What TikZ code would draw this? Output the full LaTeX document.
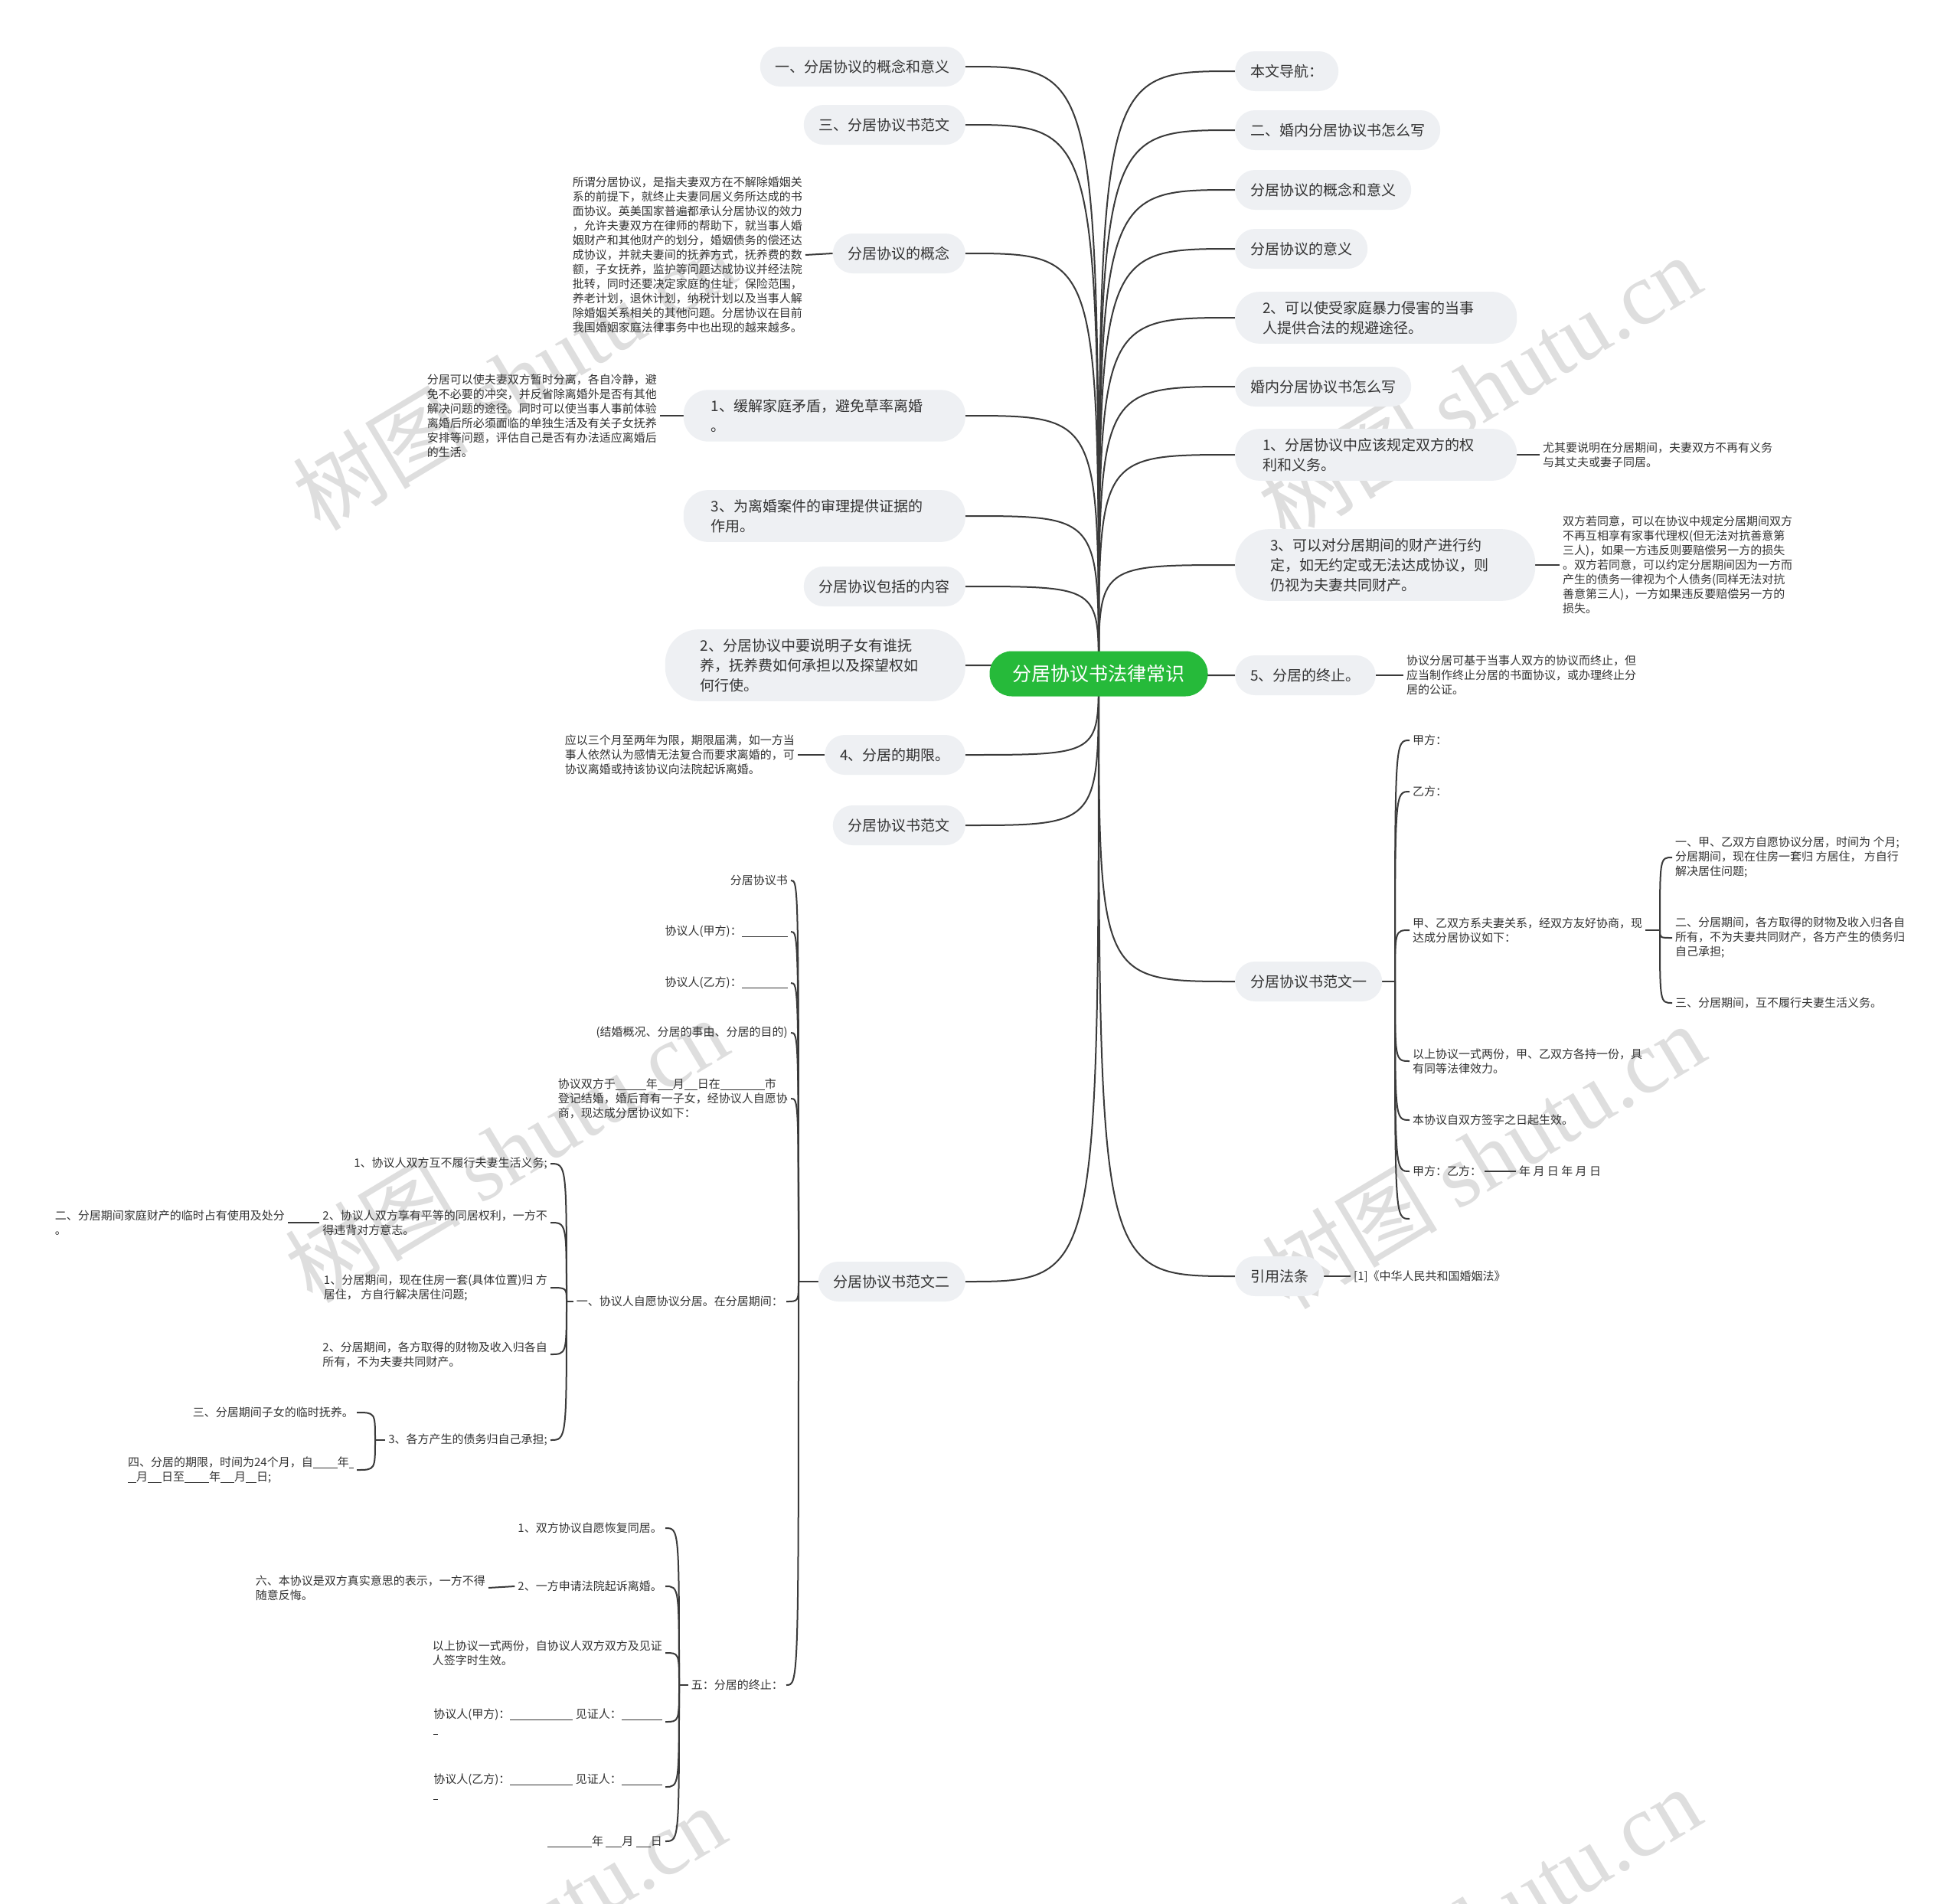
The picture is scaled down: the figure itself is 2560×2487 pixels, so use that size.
\documentclass[tikz,border=0pt]{standalone}
\usepackage{fontspec}
\setmainfont{Noto Sans CJK SC}
\newfontfamily\wmserif{Liberation Serif}
\usetikzlibrary{backgrounds}
\definecolor{rootgreen}{RGB}{38,186,58}
\definecolor{topicfill}{RGB}{238,240,243}
\definecolor{inkc}{RGB}{51,51,51}
\definecolor{linkc}{RGB}{58,58,58}
\definecolor{markc}{RGB}{222,222,222}
\newcommand{\fillin}[1]{\rule[-2.5pt]{#1pt}{1pt}}

\begin{document}
\begin{tikzpicture}[x=1pt,y=-1pt,
    root/.style={fill=rootgreen,text=white,rounded corners=29pt,minimum height=59pt,inner xsep=30pt,font=\fontsize{25}{30}\selectfont},
    topic/.style={fill=topicfill,text=inkc,rounded corners=26pt,minimum height=52pt,inner xsep=20pt,font=\fontsize{19}{26}\selectfont},
    topicm/.style={topic,rounded corners=32pt,inner xsep=36pt,inner ysep=12pt,text width=296pt,align=left},
    topicw/.style={topicm,rounded corners=44pt,inner xsep=46pt,text width=300pt},
    leaf/.style={text=inkc,inner xsep=4pt,inner ysep=2pt,align=left,font=\fontsize{15}{19}\selectfont},
    link/.style={draw=linkc,line width=2pt,to path={.. controls (\tikztostart |- \tikztotarget) .. (\tikztotarget)}},
    stub/.style={draw=linkc,line width=2pt},
    wmark/.style={text=markc,rotate=31,font=\fontsize{115}{115}\selectfont}]
    \useasboundingbox (0,0) rectangle (2560,2487);
    \begin{scope}[on background layer]
        \fill[white] (0,0) rectangle (2560,2487);
        \node[wmark] (wm1) at (671,493) {树图 {\wmserif shutu.cn}};
        \node[wmark] (wm2) at (1932,506) {树图 {\wmserif shutu.cn}};
        \node[wmark] (wm3) at (661,1502) {树图 {\wmserif shutu.cn}};
        \node[wmark] (wm4) at (1937,1510) {树图 {\wmserif shutu.cn}};
        \node[wmark] (wm5) at (658,2531) {树图 {\wmserif shutu.cn}};
        \node[wmark] (wm6) at (1932,2507) {树图 {\wmserif shutu.cn}};
    \end{scope}

    \node[root] (root) at (1435,880) {分居协议书法律常识};

    \node[topic,anchor=west] (r1) at (1613,93) {本文导航：};
    \node[topic,anchor=west] (r2) at (1613,170) {二、婚内分居协议书怎么写};
    \node[topic,anchor=west] (r3) at (1613,248) {分居协议的概念和意义};
    \node[topic,anchor=west] (r4) at (1613,325) {分居协议的意义};
    \node[topicm,anchor=west] (r5) at (1613,415) {2、可以使受家庭暴力侵害的当事\\人提供合法的规避途径。};
    \node[topic,anchor=west] (r6) at (1613,505) {婚内分居协议书怎么写};
    \node[topicm,anchor=west] (r7) at (1613,594) {1、分居协议中应该规定双方的权\\利和义务。};
    \node[topicw,anchor=west] (r8) at (1613,738) {3、可以对分居期间的财产进行约\\定，如无约定或无法达成协议，则\\仍视为夫妻共同财产。};
    \node[topic,anchor=west] (r9) at (1613,882) {5、分居的终止。};
    \node[topic,anchor=west] (r10) at (1613,1282) {分居协议书范文一};
    \node[topic,anchor=west] (r11) at (1613,1667) {引用法条};

    \node[leaf,anchor=west] (r7a) at (2011,594) {尤其要说明在分居期间，夫妻双方不再有义务\\与其丈夫或妻子同居。};
    \node[leaf,anchor=west] (r8a) at (2037,738) {双方若同意，可以在协议中规定分居期间双方\\不再互相享有家事代理权(但无法对抗善意第\\三人)，如果一方违反则要赔偿另一方的损失\\。双方若同意，可以约定分居期间因为一方而\\产生的债务一律视为个人债务(同样无法对抗\\善意第三人)，一方如果违反要赔偿另一方的\\损失。};
    \node[leaf,anchor=west] (r9a) at (1833,882) {协议分居可基于当事人双方的协议而终止，但\\应当制作终止分居的书面协议，或办理终止分\\居的公证。};
    \node[leaf,anchor=west] (r11a) at (1764,1667) {[1]《中华人民共和国婚姻法》};

    \coordinate (r10j) at (1822,1282);
    \node[leaf,anchor=west] (r10a) at (1841,967) {甲方：};
    \node[leaf,anchor=west] (r10b) at (1841,1034) {乙方：};
    \node[leaf,anchor=west] (r10c) at (1841,1215) {甲、乙双方系夫妻关系，经双方友好协商，现\\达成分居协议如下：};
    \coordinate (r10cj) at (2168,1215);
    \node[leaf,anchor=west] (r10c1) at (2184,1120) {一、甲、乙双方自愿协议分居，时间为 个月;\\分居期间，现在住房一套归 方居住， 方自行\\解决居住问题;};
    \node[leaf,anchor=west] (r10c2) at (2184,1225) {二、分居期间，各方取得的财物及收入归各自\\所有，不为夫妻共同财产，各方产生的债务归\\自己承担;};
    \node[leaf,anchor=west] (r10c3) at (2184,1310) {三、分居期间，互不履行夫妻生活义务。};
    \node[leaf,anchor=west] (r10d) at (1841,1386) {以上协议一式两份，甲、乙双方各持一份，具\\有同等法律效力。};
    \node[leaf,anchor=west] (r10e) at (1841,1463) {本协议自双方签字之日起生效。};
    \node[leaf,anchor=west] (r10f) at (1841,1530) {甲方：乙方：};
    \node[leaf,anchor=west] (r10f1) at (1980,1530) {年 月 日 年 月 日};
    \coordinate (r10g) at (1841,1592);

    \node[topic,anchor=east] (l1) at (1261,87) {一、分居协议的概念和意义};
    \node[topic,anchor=east] (l2) at (1261,163) {三、分居协议书范文};
    \node[topic,anchor=east] (l3) at (1261,331) {分居协议的概念};
    \node[topicm,anchor=east] (l4) at (1261,543) {1、缓解家庭矛盾，避免草率离婚\\。};
    \node[topicm,anchor=east] (l5) at (1261,674) {3、为离婚案件的审理提供证据的\\作用。};
    \node[topic,anchor=east] (l6) at (1261,766) {分居协议包括的内容};
    \node[topicw,anchor=east] (l7) at (1261,869) {2、分居协议中要说明子女有谁抚\\养，抚养费如何承担以及探望权如\\何行使。};
    \node[topic,anchor=east] (l8) at (1261,986) {4、分居的期限。};
    \node[topic,anchor=east] (l9) at (1261,1078) {分居协议书范文};
    \node[topic,anchor=east] (l10) at (1261,1674) {分居协议书范文二};

    \node[leaf,anchor=east] (l3a) at (1052,333) {所谓分居协议，是指夫妻双方在不解除婚姻关\\系的前提下，就终止夫妻同居义务所达成的书\\面协议。英美国家普遍都承认分居协议的效力\\，允许夫妻双方在律师的帮助下，就当事人婚\\姻财产和其他财产的划分，婚姻债务的偿还达\\成协议，并就夫妻间的抚养方式，抚养费的数\\额，子女抚养，监护等问题达成协议并经法院\\批转，同时还要决定家庭的住址，保险范围，\\养老计划，退休计划，纳税计划以及当事人解\\除婚姻关系相关的其他问题。分居协议在目前\\我国婚姻家庭法律事务中也出现的越来越多。};
    \node[leaf,anchor=east] (l4a) at (862,543) {分居可以使夫妻双方暂时分离，各自冷静，避\\免不必要的冲突，并反省除离婚外是否有其他\\解决问题的途径。同时可以使当事人事前体验\\离婚后所必须面临的单独生活及有关子女抚养\\安排等问题，评估自己是否有办法适应离婚后\\的生活。};
    \node[leaf,anchor=east] (l8a) at (1042,986) {应以三个月至两年为限，期限届满，如一方当\\事人依然认为感情无法复合而要求离婚的，可\\协议离婚或持该协议向法院起诉离婚。};

    \coordinate (l10j) at (1043,1674);
    \node[leaf,anchor=east] (l10a) at (1033,1150) {分居协议书};
    \node[leaf,anchor=east] (l10b) at (1033,1217) {协议人(甲方)：\fillin{60}};
    \node[leaf,anchor=east] (l10c) at (1033,1284) {协议人(乙方)：\fillin{60}};
    \node[leaf,anchor=east] (l10d) at (1033,1349) {(结婚概况、分居的事由、分居的目的)};
    \node[leaf,anchor=east] (l10e) at (1033,1435) {协议双方于\fillin{40}年\fillin{20}月\fillin{17}日在\fillin{58}市\\登记结婚，婚后育有一子女，经协议人自愿协\\商，现达成分居协议如下：};
    \node[leaf,anchor=east] (l10f) at (1027,1700) {一、协议人自愿协议分居。在分居期间：};
    \coordinate (l10fj) at (740,1700);
    \node[leaf,anchor=east] (l10f1) at (719,1520) {1、协议人双方互不履行夫妻生活义务;};
    \node[leaf,anchor=east] (l10f2) at (719,1597) {2、协议人双方享有平等的同居权利，一方不\\得违背对方意志。};
    \node[leaf,anchor=east] (l10f2a) at (376,1597) {二、分居期间家庭财产的临时占有使用及处分\\。};
    \node[leaf,anchor=east] (l10f3) at (719,1682) {1、分居期间，现在住房一套(具体位置)归 方\\居住， 方自行解决居住问题;};
    \node[leaf,anchor=east] (l10f4) at (719,1769) {2、分居期间，各方取得的财物及收入归各自\\所有，不为夫妻共同财产。};
    \node[leaf,anchor=east] (l10f5) at (719,1881) {3、各方产生的债务归自己承担;};
    \coordinate (l10f5j) at (490,1881);
    \node[leaf,anchor=east] (l10f5a) at (466,1845) {三、分居期间子女的临时抚养。};
    \node[leaf,anchor=east] (l10f5b) at (466,1920) {四、分居的期限，时间为24个月，自\fillin{32}年\fillin{6}\\\fillin{11}月\fillin{18}日至\fillin{32}年\fillin{18}月\fillin{14}日;};
    \node[leaf,anchor=east] (l10g) at (1027,2201) {五：分居的终止：};
    \coordinate (l10gj) at (887,2201);
    \node[leaf,anchor=east] (l10g1) at (869,1996) {1、双方协议自愿恢复同居。};
    \node[leaf,anchor=east] (l10g2) at (869,2072) {2、一方申请法院起诉离婚。};
    \node[leaf,anchor=east] (l10g2a) at (638,2074) {六、本协议是双方真实意思的表示，一方不得\\随意反悔。};
    \node[leaf,anchor=east] (l10g3) at (869,2159) {以上协议一式两份，自协议人双方双方及见证\\人签字时生效。};
    \node[leaf,anchor=east] (l10g4) at (869,2249) {协议人(甲方)：\fillin{82} 见证人：\fillin{53}\\\fillin{6}};
    \node[leaf,anchor=east] (l10g5) at (869,2334) {协议人(乙方)：\fillin{82} 见证人：\fillin{53}\\\fillin{6}};
    \node[leaf,anchor=east] (l10g6) at (869,2405) {\fillin{58}年 \fillin{21}月 \fillin{19}日};

    \begin{scope}[on background layer]
        \foreach \t in {r1,r2,r3,r4,r5,r6,r7,r8,r9,r10,r11}
            \draw[link] (root.center) to (\t.west);
        \foreach \t in {l1,l2,l3,l4,l5,l6,l7,l8,l9,l10}
            \draw[link] (root.center) to (\t.east);
        \draw[stub] (r7.east) -- (r7a.west);
        \draw[stub] (r8.east) -- (r8a.west);
        \draw[stub] (r9.east) -- (r9a.west);
        \draw[stub] (r11.east) -- (r11a.west);
        \draw[stub] (l3.west) -- (l3a.east);
        \draw[stub] (l4.west) -- (l4a.east);
        \draw[stub] (l8.west) -- (l8a.east);
        \draw[stub] (r10.east) -- (r10j);
        \foreach \t in {r10a,r10b,r10c,r10d,r10e,r10f}
            \draw[link] (r10j) to (\t.west);
        \draw[link] (r10j) to (r10g);
        \draw[stub] (r10c.east) -- (r10cj);
        \foreach \t in {r10c1,r10c2,r10c3}
            \draw[link] (r10cj) to (\t.west);
        \draw[stub] (r10f.east) -- (r10f1.west);
        \draw[stub] (l10.west) -- (l10j);
        \foreach \t in {l10a,l10b,l10c,l10d,l10e,l10f,l10g}
            \draw[link] (l10j) to (\t.east);
        \draw[stub] (l10f.west) -- (l10fj);
        \foreach \t in {l10f1,l10f2,l10f3,l10f4,l10f5}
            \draw[link] (l10fj) to (\t.east);
        \draw[stub] (l10f2.west) -- (l10f2a.east);
        \draw[stub] (l10f5.west) -- (l10f5j);
        \foreach \t in {l10f5a,l10f5b}
            \draw[link] (l10f5j) to (\t.east);
        \draw[stub] (l10g.west) -- (l10gj);
        \foreach \t in {l10g1,l10g2,l10g3,l10g4,l10g5,l10g6}
            \draw[link] (l10gj) to (\t.east);
        \draw[stub] (l10g2.west) -- (l10g2a.east);
    \end{scope}
\end{tikzpicture}
\end{document}
